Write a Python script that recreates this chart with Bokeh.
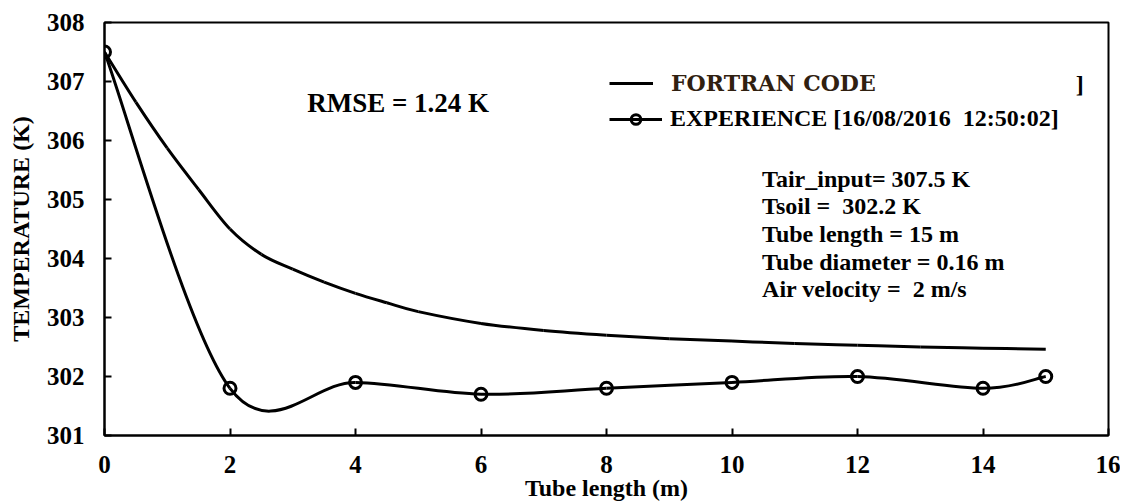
from bokeh.plotting import figure
from bokeh.models import Range1d, Legend, LegendItem, Label, FixedTicker
from bokeh.embed import file_html
from bokeh.resources import INLINE

# ---------------- data ----------------
fortran_x = [0, 0.5, 1, 1.5, 2, 2.5, 3, 3.5, 4, 4.5, 5, 6, 7, 8, 9, 10, 11, 12, 13, 14, 15]
fortran_y = [307.5, 306.65, 305.87, 305.17, 304.5, 304.07, 303.82, 303.6, 303.41, 303.25,
             303.1, 302.9, 302.78, 302.7, 302.64, 302.6, 302.56, 302.53, 302.5, 302.48, 302.46]

exp_x = [0, 2, 4, 6, 8, 10, 12, 14, 15]
exp_y = [307.5, 301.8, 301.9, 301.7, 301.8, 301.9, 302.0, 301.8, 302.0]

x_ticks = [0, 2, 4, 6, 8, 10, 12, 14, 16]
y_ticks = [301, 302, 303, 304, 305, 306, 307, 308]

info_lines = ["Tair_input= 307.5 K", "Tsoil =\u00a0 302.2 K", "Tube length = 15 m",
              "Tube diameter = 0.16 m", "Air velocity =\u00a0 2 m/s"]
rmse_text = "RMSE = 1.24 K"
fortran_label = "FORTRAN CODE"
exp_label = "EXPERIENCE [16/08/2016\u00a0 12:50:02]"
x_title = "Tube length (m)"
y_title = "TEMPERATURE (K)"


def smooth_segments(xs, ys):
    """Excel-like smoothed line: cubic Bezier control points (Catmull-Rom, 1/6)."""
    n = len(xs)
    seg = dict(x0=[], y0=[], x1=[], y1=[], cx0=[], cy0=[], cx1=[], cy1=[])
    for i in range(n - 1):
        a = max(i - 1, 0)
        d = min(i + 2, n - 1)
        seg["x0"].append(xs[i]); seg["y0"].append(ys[i])
        seg["x1"].append(xs[i + 1]); seg["y1"].append(ys[i + 1])
        seg["cx0"].append(xs[i] + (xs[i + 1] - xs[a]) / 6.0)
        seg["cy0"].append(ys[i] + (ys[i + 1] - ys[a]) / 6.0)
        seg["cx1"].append(xs[i + 1] - (xs[d] - xs[i]) / 6.0)
        seg["cy1"].append(ys[i + 1] - (ys[d] - ys[i]) / 6.0)
    return seg


FONT = "Liberation Serif"

p = figure(width=1120, height=504, output_backend="svg", toolbar_location=None,
           x_range=Range1d(0, 16), y_range=Range1d(301, 308),
           min_border_left=104, min_border_right=12, min_border_top=22, min_border_bottom=69)

p.xgrid.visible = False
p.ygrid.visible = False
p.outline_line_color = "black"
p.outline_line_width = 2
p.outline_line_alpha = 1.0
p.background_fill_color = "white"
p.border_fill_color = "white"

for ax in (p.xaxis[0], p.yaxis[0]):
    ax.axis_line_width = 2
    ax.axis_line_color = "black"
    ax.major_tick_in = 7
    ax.major_tick_out = 0
    ax.major_tick_line_width = 2
    ax.minor_tick_line_color = None
    ax.major_label_text_font = FONT
    ax.major_label_text_font_style = "bold"
    ax.major_label_text_font_size = "25px"
    ax.major_label_text_color = "black"
    ax.axis_label_text_font = FONT
    ax.axis_label_text_font_style = "bold"
    ax.axis_label_text_color = "black"
    ax.axis_label_text_font_size = "24px"

p.xaxis.ticker = FixedTicker(ticks=x_ticks)
p.yaxis.ticker = FixedTicker(ticks=y_ticks)
p.xaxis.axis_label = x_title
p.yaxis.axis_label = y_title
p.xaxis.major_label_standoff = 20
p.yaxis.major_label_standoff = 20
p.xaxis.axis_label_standoff = -1
p.yaxis.axis_label_standoff = 10

fs = smooth_segments(fortran_x, fortran_y)
fortran_r = p.bezier(x0="x0", y0="y0", x1="x1", y1="y1", cx0="cx0", cy0="cy0",
                     cx1="cx1", cy1="cy1", source=fs, line_color="black", line_width=3)
es = smooth_segments(exp_x, exp_y)
exp_r = p.bezier(x0="x0", y0="y0", x1="x1", y1="y1", cx0="cx0", cy0="cy0",
                 cx1="cx1", cy1="cy1", source=es, line_color="black", line_width=3)
circ_r = p.scatter(exp_x, exp_y, marker="circle", size=12, fill_color=None,
                   line_color="black", line_width=3)

leg1 = Legend(items=[LegendItem(label=fortran_label, renderers=[fortran_r])],
              location=(505, 339), glyph_width=44, glyph_height=24, label_height=24,
              label_standoff=18, padding=0, margin=0, border_line_color=None,
              background_fill_alpha=0, label_text_font="DejaVu Serif",
              label_text_font_style="bold", label_text_font_size="22px",
              label_text_color="#302010")
leg2 = Legend(items=[LegendItem(label=exp_label, renderers=[exp_r, circ_r])],
              location=(505, 303), glyph_width=53, glyph_height=24, label_height=24,
              label_standoff=8, padding=0, margin=0, border_line_color=None,
              background_fill_alpha=0, label_text_font=FONT,
              label_text_font_style="bold", label_text_font_size="24px",
              label_text_color="black")
p.add_layout(leg1)
p.add_layout(leg2)

p.add_layout(Label(x=3.23, y=306.64, text=rmse_text, text_font=FONT, text_font_style="bold",
                   text_font_size="27px", text_baseline="middle", text_color="black"))
p.add_layout(Label(x=15.48, y=306.95, text="]", text_font=FONT, text_font_style="bold",
                   text_font_size="24px", text_baseline="middle", text_color="black"))

info_y_top = 305.35
info_step = 0.467
for i, line in enumerate(info_lines):
    p.add_layout(Label(x=10.48, y=info_y_top - i * info_step, text=line, text_font=FONT,
                       text_font_style="bold", text_font_size="24px",
                       text_baseline="middle", text_color="black"))

open("out.html", "w").write(file_html(p, INLINE))
